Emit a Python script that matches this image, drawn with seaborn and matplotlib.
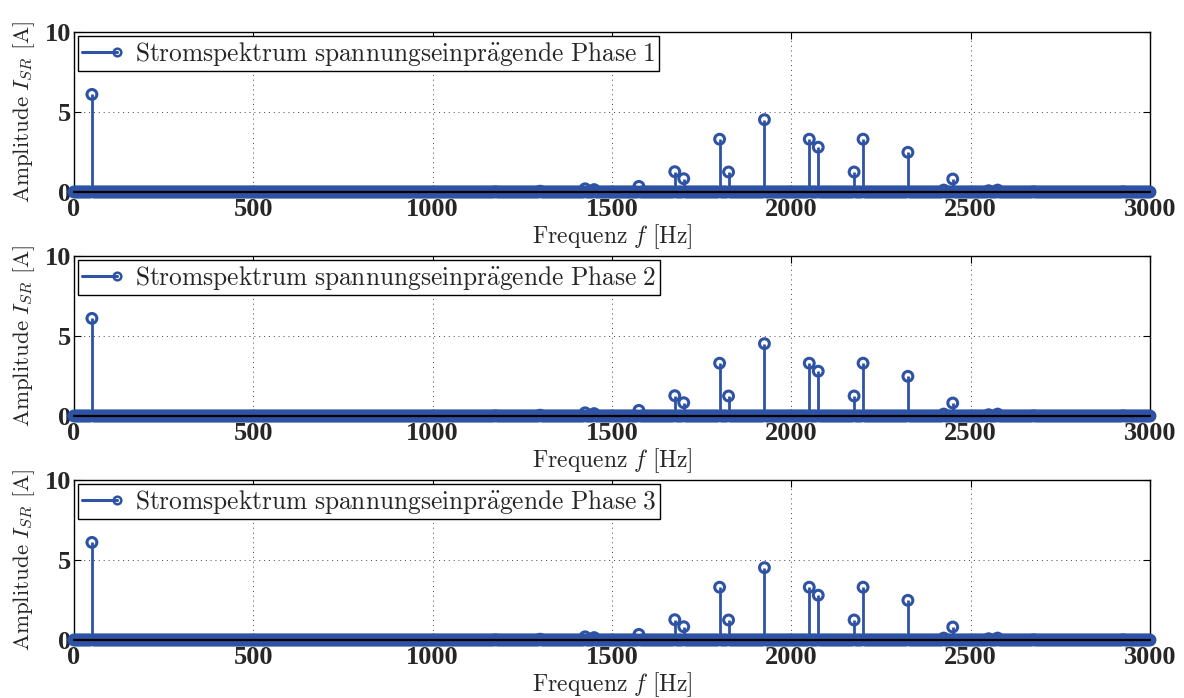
import numpy as np
import pandas as pd
import matplotlib
matplotlib.use("Agg")
import matplotlib.pyplot as plt
from matplotlib.lines import Line2D
from matplotlib.legend_handler import HandlerBase
import seaborn as sns

# Spectral lines of the phase current (frequency in Hz, amplitude in A)
line_freqs = [50, 1175, 1300, 1425, 1450, 1575, 1675, 1700, 1800, 1825, 1925,
              2050, 2075, 2175, 2200, 2325, 2425, 2450, 2550, 2575, 2675, 2925]
amps_phase1 = [6.1, 0.02, 0.05, 0.2, 0.15, 0.35, 1.27, 0.83, 3.3, 1.25, 4.52,
               3.3, 2.8, 1.25, 3.3, 2.48, 0.12, 0.81, 0.08, 0.12, 0.02, 0.02]
amps_phase2 = list(amps_phase1)
amps_phase3 = list(amps_phase1)
phase_names = ["1", "2", "3"]

# FFT bins 0 ... 3000 Hz (5 Hz resolution); all bins without a line are zero
bin_step = 5
f_max = 3000
x_ticks = [0, 500, 1000, 1500, 2000, 2500, 3000]
y_ticks = [0, 5, 10]

COLOR = "#2E52A4"

sns.set_theme(style="white")
plt.rcParams["mathtext.fontset"] = "cm"
plt.rcParams["font.family"] = ["DejaVu Sans"]


def spectrum(amps):
    freq = np.arange(0, f_max + bin_step, bin_step)
    amp = np.zeros_like(freq, dtype=float)
    for f, a in zip(line_freqs, amps):
        amp[freq == f] = a
    return pd.DataFrame({"f": freq, "I": amp})


class StemLegendHandler(HandlerBase):
    def create_artists(self, legend, orig_handle, xdescent, ydescent,
                       width, height, fontsize, trans):
        y = height / 2 - ydescent
        ln = Line2D([-xdescent, width - xdescent], [y, y], color=COLOR, lw=2.2)
        mk = Line2D([width - xdescent], [y], marker="o", mfc="none",
                    mec=COLOR, mew=1.8, ms=5.5, ls="none")
        ln.set_transform(trans)
        mk.set_transform(trans)
        return [ln, mk]


W, H = 1184, 698
fig = plt.figure(figsize=(W / 100, H / 100), dpi=100)

tick_font = dict(family="Liberation Serif", weight="bold", size=19)

bottoms_px = [192, 416, 640]
for name, amps, bpx in zip(phase_names, [amps_phase1, amps_phase2, amps_phase3], bottoms_px):
    ax = fig.add_axes([74 / W, 1 - bpx / H, 1076 / W, 160 / H])
    df = spectrum(amps)

    ax.vlines(df["f"], 0, df["I"], color=COLOR, lw=2.0, zorder=3)
    ax.axhline(0, color="black", lw=1.6, zorder=5, clip_on=False)
    sns.scatterplot(data=df, x="f", y="I", ax=ax, marker="o",
                    facecolors="none", edgecolor=COLOR, linewidth=2.2,
                    s=50, zorder=4, clip_on=False, legend=False)

    ax.set_xlim(0, f_max)
    ax.set_ylim(0, 10)
    ax.set_xticks(x_ticks)
    ax.set_yticks(y_ticks)
    ax.set_xticklabels([str(t) for t in x_ticks], fontdict=tick_font)
    ax.set_yticklabels([str(t) for t in y_ticks], fontdict=tick_font)
    ax.tick_params(direction="in", length=5, width=0.8, color="black",
                   top=True, right=True, bottom=True, left=True)
    ax.tick_params(axis="x", pad=4)
    ax.tick_params(axis="y", pad=2)
    ax.grid(True, linestyle=(0, (1, 4)), color="#444444", lw=0.7)
    for sp in ax.spines.values():
        sp.set_visible(True)
        sp.set_color("black")
        sp.set_linewidth(1.0)

    ax.set_xlabel(r"$\mathrm{Frequenz}\ f\ \mathrm{[Hz]}$", fontsize=17, labelpad=1)
    ax.set_ylabel(r"$\mathrm{Amplitude}\ I_{SR}\ \mathrm{[A]}$", fontsize=16.5, labelpad=6)

    handle = Line2D([], [], color=COLOR)
    leg = ax.legend([handle],
                    [r"$\mathrm{Stromspektrum\ spannungseinpr\ddot{a}gende\ Phase\ " + name + r"}$"],
                    handler_map={Line2D: StemLegendHandler()},
                    loc="upper left", fontsize=18.3, frameon=True, fancybox=False,
                    framealpha=1, edgecolor="black", borderaxespad=0.15,
                    handlelength=1.4, handletextpad=0.7, borderpad=0.15)
    leg.get_frame().set_linewidth(1.0)

fig.savefig("out.png", dpi=100)
